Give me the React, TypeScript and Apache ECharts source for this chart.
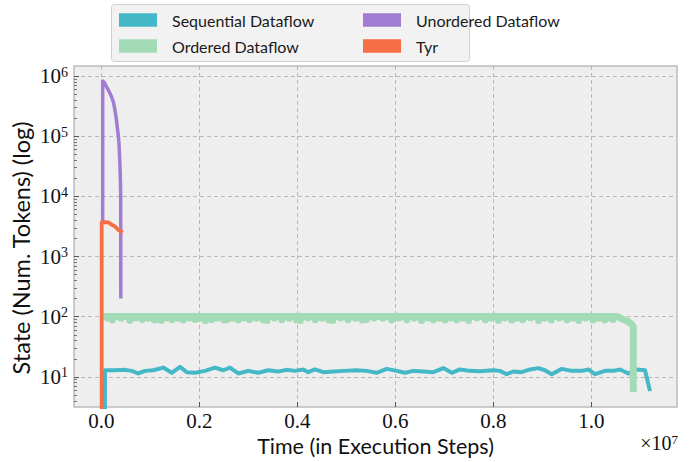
import React, { useEffect, useRef } from "react";
import * as echarts from "echarts";

// x in units of 1e7 execution steps, y = number of tokens
const X_TICKS = [0, 0.2, 0.4, 0.6, 0.8, 1.0];
const Y_DECADES = [1, 2, 3, 4, 5, 6];
const MINOR_MANTISSAS = [2, 3, 4, 5, 6, 7, 8, 9];
const MINOR_EXPONENTS = [0, 1, 2, 3, 4, 5, 6];

const SERIES_NAMES = ["Sequential Dataflow", "Ordered Dataflow", "Unordered Dataflow", "Tyr"];
const COLORS = ["#44b8c7", "#a4dbb7", "#a27bd2", "#f66e45"];

const SEQUENTIAL: [number, number][] = [
  [0.0069, 2.5], [0.0071, 12.9], [0.0276, 12.9], [0.048, 13.1], [0.0616, 12.6], [0.0751, 11.4],
  [0.0888, 12.6], [0.1057, 12.9], [0.1261, 14.3], [0.1433, 11.7], [0.1602, 14.7], [0.1739, 12.0],
  [0.1908, 11.7], [0.2112, 12.6], [0.2316, 14.3], [0.2486, 12.9], [0.2622, 14.3], [0.2792, 11.4],
  [0.2996, 12.6], [0.32, 11.7], [0.3404, 12.9], [0.3608, 12.3], [0.378, 13.1], [0.3949, 12.6],
  [0.4118, 13.3], [0.422, 12.0], [0.4357, 13.3], [0.4527, 12.0], [0.4731, 12.3], [0.4935, 12.6],
  [0.5208, 12.9], [0.5412, 12.6], [0.5616, 11.7], [0.582, 13.6], [0.6024, 12.6], [0.6194, 11.7],
  [0.6363, 12.6], [0.6567, 12.3], [0.6771, 12.0], [0.6976, 14.0], [0.7147, 11.7], [0.7316, 13.3],
  [0.752, 12.6], [0.7724, 12.4], [0.7996, 12.9], [0.8133, 12.6], [0.8269, 11.1], [0.8404, 12.3],
  [0.8576, 12.0], [0.8745, 13.3], [0.8914, 14.0], [0.9051, 12.9], [0.9188, 11.1], [0.9392, 13.6],
  [0.9596, 12.6], [0.98, 12.6], [0.9935, 13.3], [1.0071, 11.1], [1.0276, 12.6], [1.0445, 12.6],
  [1.0582, 13.3], [1.0751, 11.4], [1.0922, 13.3], [1.1092, 12.9], [1.1194, 5.8],
];

// Ordered Dataflow: a dense band near 100 tokens with short downward spikes
const ORDERED: [number, number][] = [
  [0.004, 100.5],
  [0.012, 100.5], [0.012, 95], [0.012, 100.5],
  [0.022, 100.5], [0.022, 88], [0.022, 100.5],
  [0.04, 100.5], [0.04, 94], [0.04, 100.5],
  [0.058, 100.5], [0.058, 87], [0.058, 100.5],
  [0.07, 100.5], [0.07, 95], [0.07, 100.5],
  [0.083, 100.5], [0.083, 90], [0.083, 100.5],
  [0.095, 100.5], [0.095, 94], [0.095, 100.5],
  [0.108, 100.5], [0.108, 88], [0.108, 100.5],
  [0.116, 100.5], [0.116, 90], [0.116, 100.5],
  [0.122, 100.5], [0.122, 87], [0.122, 100.5],
  [0.133, 100.5], [0.133, 95], [0.133, 100.5],
  [0.144, 100.5], [0.144, 89], [0.144, 100.5],
  [0.156, 100.5], [0.156, 94], [0.156, 100.5],
  [0.167, 100.5], [0.167, 88], [0.167, 100.5],
  [0.18, 100.5], [0.18, 95], [0.18, 100.5],
  [0.191, 100.5], [0.191, 90], [0.191, 100.5],
  [0.2, 100.5], [0.2, 94], [0.2, 100.5],
  [0.212, 100.5], [0.212, 87], [0.212, 100.5],
  [0.225, 100.5], [0.225, 89], [0.225, 100.5],
  [0.237, 100.5], [0.237, 95], [0.237, 100.5],
  [0.25, 100.5], [0.25, 88], [0.25, 100.5],
  [0.257, 100.5], [0.257, 90], [0.257, 100.5],
  [0.268, 100.5], [0.268, 94], [0.268, 100.5],
  [0.279, 100.5], [0.279, 88], [0.279, 100.5],
  [0.29, 100.5], [0.29, 95], [0.29, 100.5],
  [0.302, 100.5], [0.302, 89], [0.302, 100.5],
  [0.316, 100.5], [0.316, 94], [0.316, 100.5],
  [0.33, 100.5], [0.33, 88], [0.33, 100.5],
  [0.338, 100.5], [0.338, 87], [0.338, 100.5],
  [0.353, 100.5], [0.353, 95], [0.353, 100.5],
  [0.368, 100.5], [0.368, 89], [0.368, 100.5],
  [0.383, 100.5], [0.383, 94], [0.383, 100.5],
  [0.398, 100.5], [0.398, 88], [0.398, 100.5],
  [0.406, 100.5], [0.406, 87], [0.406, 100.5],
  [0.421, 100.5], [0.421, 95], [0.421, 100.5],
  [0.436, 100.5], [0.436, 89], [0.436, 100.5],
  [0.45, 100.5], [0.45, 94], [0.45, 100.5],
  [0.464, 100.5], [0.464, 88], [0.464, 100.5],
  [0.472, 100.5], [0.472, 87], [0.472, 100.5],
  [0.488, 100.5], [0.488, 95], [0.488, 100.5],
  [0.503, 100.5], [0.503, 89], [0.503, 100.5],
  [0.518, 100.5], [0.518, 94], [0.518, 100.5],
  [0.532, 100.5], [0.532, 88], [0.532, 100.5],
  [0.541, 100.5], [0.541, 90], [0.541, 100.5],
  [0.556, 100.5], [0.556, 95], [0.556, 100.5],
  [0.574, 100.5], [0.574, 94], [0.574, 100.5],
  [0.592, 100.5], [0.592, 88], [0.592, 100.5],
  [0.607, 100.5], [0.607, 95], [0.607, 100.5],
  [0.623, 100.5], [0.623, 89], [0.623, 100.5],
  [0.638, 100.5], [0.638, 94], [0.638, 100.5],
  [0.653, 100.5], [0.653, 87], [0.653, 100.5],
  [0.665, 100.5], [0.665, 95], [0.665, 100.5],
  [0.677, 100.5], [0.677, 89], [0.677, 100.5],
  [0.689, 100.5], [0.689, 94], [0.689, 100.5],
  [0.701, 100.5], [0.701, 88], [0.701, 100.5],
  [0.713, 100.5], [0.713, 95], [0.713, 100.5],
  [0.725, 100.5], [0.725, 89], [0.725, 100.5],
  [0.737, 100.5], [0.737, 94], [0.737, 100.5],
  [0.749, 100.5], [0.749, 87], [0.749, 100.5],
  [0.766, 100.5], [0.766, 95], [0.766, 100.5],
  [0.783, 100.5], [0.783, 89], [0.783, 100.5],
  [0.796, 100.5], [0.796, 94], [0.796, 100.5],
  [0.81, 100.5], [0.81, 87], [0.81, 100.5],
  [0.823, 100.5], [0.823, 95], [0.823, 100.5],
  [0.837, 100.5], [0.837, 88], [0.837, 100.5],
  [0.848, 100.5], [0.848, 94], [0.848, 100.5],
  [0.86, 100.5], [0.86, 89], [0.86, 100.5],
  [0.876, 100.5], [0.876, 95], [0.876, 100.5],
  [0.892, 100.5], [0.892, 87], [0.892, 100.5],
  [0.905, 100.5], [0.905, 94], [0.905, 100.5],
  [0.918, 100.5], [0.918, 88], [0.918, 100.5],
  [0.934, 100.5], [0.934, 95], [0.934, 100.5],
  [0.95, 100.5], [0.95, 89], [0.95, 100.5],
  [0.962, 100.5], [0.962, 94], [0.962, 100.5],
  [0.974, 100.5], [0.974, 87], [0.974, 100.5],
  [0.988, 100.5], [0.988, 95], [0.988, 100.5],
  [1.003, 100.5], [1.003, 88], [1.003, 100.5],
  [1.015, 100.5], [1.015, 94], [1.015, 100.5],
  [1.027, 100.5], [1.027, 88], [1.027, 100.5],
  [1.036, 100.5], [1.036, 95], [1.036, 100.5],
  [1.044, 100.5], [1.044, 90], [1.044, 100.5],
  [1.052, 100.5], [1.058, 96], [1.064, 91], [1.07, 87], [1.076, 82], [1.082, 75], [1.0853, 68],
  [1.0853, 5.6],
];

const UNORDERED: [number, number][] = [
  [0.0024, 3600], [0.0025, 826000], [0.0061, 771000], [0.0106, 656000], [0.0153, 556000],
  [0.0208, 447000], [0.0245, 364000], [0.0276, 268000], [0.0302, 197000], [0.0322, 141000],
  [0.0343, 103000], [0.0357, 74500], [0.0369, 47700], [0.0378, 30400], [0.0386, 18000],
  [0.0392, 11000], [0.0394, 200],
];

const TYR: [number, number][] = [
  [0.0004, 1], [0.0004, 3690], [0.007, 3750], [0.0139, 3690], [0.0208, 3400], [0.0276, 3160],
  [0.0343, 2780], [0.0433, 2500],
];

const SERIES_DATA = [SEQUENTIAL, ORDERED, UNORDERED, TYR];
const LINE_WIDTHS = [4, 7, 3.5, 3.8];

const SERIF = "'Liberation Serif', 'DejaVu Serif', serif";
const SANS = "Lato, 'DejaVu Sans', sans-serif";

export default function App() {
  const ref = useRef<HTMLDivElement>(null);

  useEffect(() => {
    document.body.style.margin = "0";
    const chart = echarts.init(ref.current!, null, { renderer: "svg" });

    const minorTicks: number[] = [];
    MINOR_EXPONENTS.forEach((e) =>
      MINOR_MANTISSAS.forEach((m) => {
        const v = Math.log10(m) + e;
        if (v > 0.5 && v < 6.1667) minorTicks.push(v);
      })
    );

    const series = SERIES_NAMES.map((name, i) => ({
      name,
      type: "line",
      data: SERIES_DATA[i].map(([x, v]) => [x, Math.log10(v)]),
      symbol: "none",
      showSymbol: false,
      color: COLORS[i],
      lineStyle: { color: COLORS[i], width: LINE_WIDTHS[i], join: "round", cap: "butt" },
      clip: true,
      z: 2 + i,
    }));

    const legendPos = [
      { left: 119, top: 12 },
      { left: 119, top: 38 },
      { left: 363, top: 12 },
      { left: 363, top: 38 },
    ];

    const legends = SERIES_NAMES.map((name, i) => ({
      data: [name],
      left: legendPos[i].left,
      top: legendPos[i].top,
      padding: 0,
      icon: "rect",
      itemWidth: 38,
      itemHeight: 13.5,
      selectedMode: false,
      textStyle: {
        fontFamily: SANS,
        fontSize: 16,
        color: "#1a1a1a",
        lineHeight: 14,
        padding: [0, 0, 0, 10],
      },
      z: 5,
    }));

    const option = {
      animation: false,
      backgroundColor: "#ffffff",
      grid: {
        left: 74,
        top: 66,
        right: 17,
        bottom: 55,
        show: true,
        backgroundColor: "#eeeeee",
        borderColor: "#bcbcbc",
        borderWidth: 1.5,
      },
      legend: legends,
      xAxis: {
        type: "value",
        min: -0.0561,
        max: 1.1745,
        axisLine: { show: false, onZero: false },
        axisTick: {
          show: true,
          inside: true,
          length: 5,
          customValues: X_TICKS,
          lineStyle: { color: "#555", width: 1 },
        },
        axisLabel: {
          customValues: X_TICKS,
          formatter: (v: number) => v.toFixed(1),
          fontFamily: SERIF,
          fontSize: 21,
          lineHeight: 19,
          color: "#111",
          margin: 4,
        },
        splitLine: { show: true, lineStyle: { color: "#b8b8b8", type: [4, 3], width: 1 } },
      },
      yAxis: [
        {
          type: "value",
          min: 0.5,
          max: 6.1667,
          axisLine: { show: false, onZero: false },
          axisTick: {
            show: true,
            inside: true,
            length: 5,
            customValues: Y_DECADES,
            lineStyle: { color: "#555", width: 1 },
          },
          axisLabel: {
            customValues: Y_DECADES,
            formatter: (v: number) => `{b|10}{s|${Math.round(v)}}`,
            margin: 6,
            rich: {
              b: { fontFamily: SERIF, fontSize: 21, color: "#111" },
              s: { fontFamily: SERIF, fontSize: 14, color: "#111", padding: [0, 0, 8, 0] },
            },
          },
          splitLine: { show: true, lineStyle: { color: "#b8b8b8", type: [4, 3], width: 1 } },
        },
        {
          type: "value",
          min: 0.5,
          max: 6.1667,
          position: "left",
          axisLine: { show: false, onZero: false },
          axisTick: {
            show: true,
            inside: true,
            length: 3,
            customValues: minorTicks,
            lineStyle: { color: "#555", width: 0.8 },
          },
          axisLabel: { show: false },
          splitLine: { show: false },
        },
      ],
      series,
      graphic: [
        {
          type: "rect",
          z: 1,
          shape: { x: 111.5, y: 4.5, width: 358, height: 57, r: 3 },
          style: { fill: "#f2f2f2", stroke: "#cfcfcf", lineWidth: 1 },
        },
        {
          type: "text",
          x: 375.5,
          y: 446,
          z: 10,
          style: {
            text: "Time (in Execution Steps)",
            fontFamily: SANS,
            fontSize: 21.5,
            fill: "#111",
            align: "center",
            verticalAlign: "middle",
          },
        },
        {
          type: "text",
          x: 21,
          y: 248,
          rotation: Math.PI / 2,
          z: 10,
          style: {
            text: "State (Num. Tokens) (log)",
            fontFamily: SANS,
            fontSize: 23.5,
            fill: "#111",
            align: "center",
            verticalAlign: "middle",
          },
        },
        {
          type: "text",
          x: 678,
          y: 443,
          z: 10,
          style: {
            text: "{a|×10}{b|7}",
            align: "right",
            verticalAlign: "middle",
            rich: {
              a: { fontFamily: SERIF, fontSize: 20, fill: "#111" },
              b: { fontFamily: SERIF, fontSize: 13, fill: "#111", padding: [0, 0, 8, 0] },
            },
          },
        },
      ],
    };

    chart.setOption(option as any);
    return () => chart.dispose();
  }, []);

  return (
    <div
      ref={ref}
      style={{ position: "absolute", left: 0, top: 0, width: 694, height: 462 }}
    />
  );
}
